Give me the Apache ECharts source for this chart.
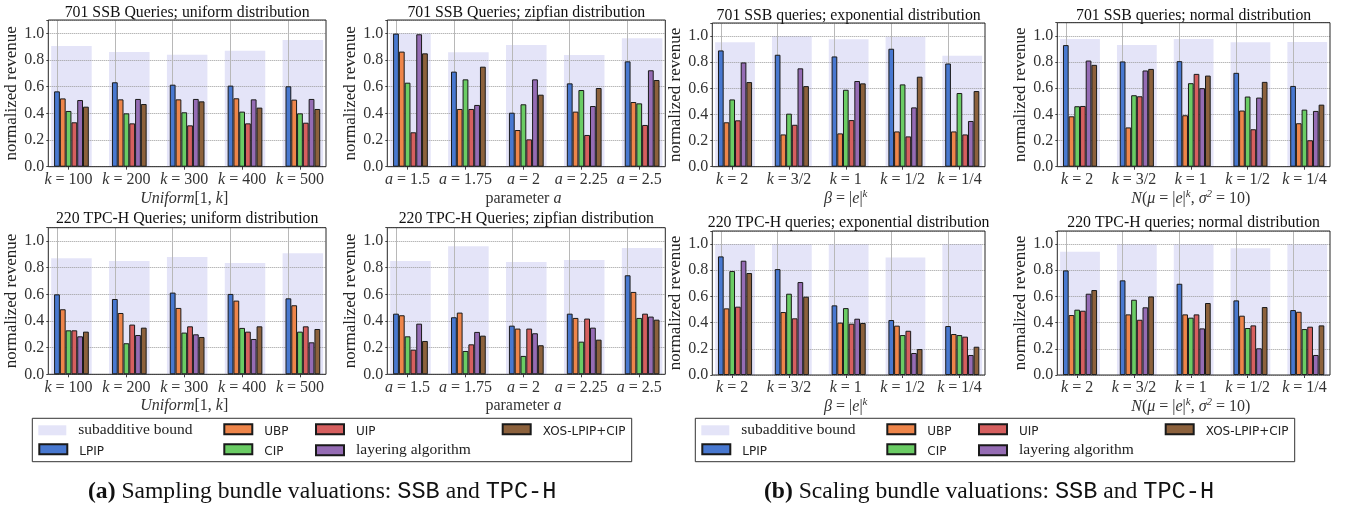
<!DOCTYPE html>
<html><head><meta charset="utf-8">
<script src="https://cdn.jsdelivr.net/npm/echarts@6/dist/echarts.min.js"></script>
<style>html,body{margin:0;padding:0;background:#fff}#c{width:1347px;height:508px}</style>
</head><body><div id="c"></div>
<script>
// ---------- categories ----------
const uniformCats = ['k = 100', 'k = 200', 'k = 300', 'k = 400', 'k = 500'];
const zipfCats = ['a = 1.5', 'a = 1.75', 'a = 2', 'a = 2.25', 'a = 2.5'];
const scaleCats = ['k = 2', 'k = 3/2', 'k = 1', 'k = 1/2', 'k = 1/4'];

// ---------- 701 SSB, uniform ----------
const ssbUniBound = [0.905, 0.86, 0.84, 0.87, 0.95];
const ssbUniLPIP = [0.565, 0.633, 0.615, 0.608, 0.603];
const ssbUniUBP = [0.512, 0.505, 0.505, 0.513, 0.503];
const ssbUniCIP = [0.418, 0.40, 0.408, 0.413, 0.40];
const ssbUniUIP = [0.333, 0.325, 0.31, 0.325, 0.33];
const ssbUniLAY = [0.50, 0.508, 0.508, 0.505, 0.508];
const ssbUniXOS = [0.45, 0.47, 0.49, 0.443, 0.433];
// ---------- 701 SSB, zipfian ----------
const ssbZipfBound = [1.0, 0.858, 0.913, 0.838, 0.963];
const ssbZipfLPIP = [0.998, 0.713, 0.405, 0.625, 0.79];
const ssbZipfUBP = [0.863, 0.433, 0.275, 0.413, 0.485];
const ssbZipfCIP = [0.63, 0.655, 0.468, 0.575, 0.475];
const ssbZipfUIP = [0.258, 0.433, 0.205, 0.238, 0.313];
const ssbZipfLAY = [0.993, 0.463, 0.655, 0.455, 0.723];
const ssbZipfXOS = [0.85, 0.75, 0.54, 0.59, 0.65];
// ---------- 701 SSB, exponential ----------
const ssbExpBound = [0.952, 1.0, 0.975, 0.995, 0.85];
const ssbExpLPIP = [0.89, 0.857, 0.844, 0.903, 0.79];
const ssbExpUBP = [0.34, 0.247, 0.255, 0.27, 0.27];
const ssbExpCIP = [0.515, 0.406, 0.589, 0.63, 0.564];
const ssbExpUIP = [0.355, 0.321, 0.357, 0.232, 0.247];
const ssbExpLAY = [0.798, 0.753, 0.656, 0.454, 0.35];
const ssbExpXOS = [0.648, 0.617, 0.638, 0.689, 0.579];
// ---------- 701 SSB, normal ----------
const ssbNormBound = [0.975, 0.93, 0.975, 0.95, 0.952];
const ssbNormLPIP = [0.929, 0.804, 0.806, 0.717, 0.617];
const ssbNormUBP = [0.385, 0.30, 0.393, 0.429, 0.332];
const ssbNormCIP = [0.462, 0.546, 0.638, 0.536, 0.436];
const ssbNormUIP = [0.464, 0.538, 0.709, 0.286, 0.202];
const ssbNormLAY = [0.811, 0.735, 0.60, 0.528, 0.426];
const ssbNormXOS = [0.778, 0.747, 0.696, 0.648, 0.474];
// ---------- 220 TPC-H, uniform ----------
const tpcUniBound = [0.87, 0.85, 0.88, 0.835, 0.908];
const tpcUniLPIP = [0.60, 0.565, 0.613, 0.603, 0.57];
const tpcUniUBP = [0.488, 0.46, 0.498, 0.553, 0.518];
const tpcUniCIP = [0.33, 0.233, 0.313, 0.348, 0.32];
const tpcUniUIP = [0.33, 0.373, 0.36, 0.32, 0.36];
const tpcUniLAY = [0.285, 0.295, 0.30, 0.265, 0.24];
const tpcUniXOS = [0.32, 0.35, 0.28, 0.36, 0.34];
// ---------- 220 TPC-H, zipfian ----------
const tpcZipfBound = [0.85, 0.96, 0.843, 0.858, 0.948];
const tpcZipfLPIP = [0.455, 0.428, 0.365, 0.455, 0.743];
const tpcZipfUBP = [0.443, 0.463, 0.343, 0.423, 0.618];
const tpcZipfCIP = [0.285, 0.175, 0.138, 0.245, 0.423];
const tpcZipfUIP = [0.185, 0.225, 0.343, 0.418, 0.455];
const tpcZipfLAY = [0.38, 0.318, 0.308, 0.35, 0.433];
const tpcZipfXOS = [0.25, 0.29, 0.218, 0.26, 0.41];
// ---------- 220 TPC-H, exponential ----------
const tpcExpBound = [1.0, 1.0, 1.0, 0.898, 1.0];
const tpcExpLPIP = [0.906, 0.809, 0.532, 0.42, 0.374];
const tpcExpUBP = [0.509, 0.481, 0.40, 0.377, 0.313];
const tpcExpCIP = [0.794, 0.621, 0.511, 0.305, 0.305];
const tpcExpUIP = [0.522, 0.433, 0.392, 0.338, 0.293];
const tpcExpLAY = [0.873, 0.71, 0.43, 0.168, 0.153];
const tpcExpXOS = [0.779, 0.598, 0.397, 0.198, 0.216];
// ---------- 220 TPC-H, normal ----------
const tpcNormBound = [0.941, 1.0, 1.0, 0.969, 1.0];
const tpcNormLPIP = [0.799, 0.723, 0.697, 0.57, 0.496];
const tpcNormUBP = [0.458, 0.463, 0.463, 0.453, 0.483];
const tpcNormCIP = [0.499, 0.575, 0.438, 0.359, 0.351];
const tpcNormUIP = [0.491, 0.422, 0.463, 0.379, 0.369];
const tpcNormLAY = [0.621, 0.517, 0.356, 0.204, 0.153];
const tpcNormXOS = [0.649, 0.60, 0.55, 0.519, 0.379];

const BOUND_NAME = 'subadditive bound';
const SERIES_NAMES = ['LPIP', 'UBP', 'CIP', 'UIP', 'layering algorithm', 'XOS-LPIP+CIP'];
const COLORS = ['#4878d0', '#ee854a', '#6acc64', '#d65f5f', '#956cb4', '#8c613c'];
const BOUND_COLOR = '#e4e4f8';
const SERIF = "'Liberation Serif', 'DejaVu Serif', serif";
const SANS = "'DejaVu Sans', sans-serif";

const panels = [
  { title: '701 SSB Queries; uniform distribution', cats: uniformCats, xName: '{i|Uniform}[1, {i|k}]', bound: ssbUniBound, vals: [ssbUniLPIP, ssbUniUBP, ssbUniCIP, ssbUniUIP, ssbUniLAY, ssbUniXOS] },
  { title: '701 SSB Queries; zipfian distribution', cats: zipfCats, xName: 'parameter {i|a}', bound: ssbZipfBound, vals: [ssbZipfLPIP, ssbZipfUBP, ssbZipfCIP, ssbZipfUIP, ssbZipfLAY, ssbZipfXOS] },
  { title: '701 SSB queries; exponential distribution', cats: scaleCats, xName: '{i|β} = |{i|e}|{s|k}', bound: ssbExpBound, vals: [ssbExpLPIP, ssbExpUBP, ssbExpCIP, ssbExpUIP, ssbExpLAY, ssbExpXOS] },
  { title: '701 SSB queries; normal distribution', cats: scaleCats, xName: '{i|N}({i|μ} = |{i|e}|{s|k}, {i|σ}{s|2} = 10)', bound: ssbNormBound, vals: [ssbNormLPIP, ssbNormUBP, ssbNormCIP, ssbNormUIP, ssbNormLAY, ssbNormXOS] },
  { title: '220 TPC-H Queries; uniform distribution', cats: uniformCats, xName: '{i|Uniform}[1, {i|k}]', bound: tpcUniBound, vals: [tpcUniLPIP, tpcUniUBP, tpcUniCIP, tpcUniUIP, tpcUniLAY, tpcUniXOS] },
  { title: '220 TPC-H Queries; zipfian distribution', cats: zipfCats, xName: 'parameter {i|a}', bound: tpcZipfBound, vals: [tpcZipfLPIP, tpcZipfUBP, tpcZipfCIP, tpcZipfUIP, tpcZipfLAY, tpcZipfXOS] },
  { title: '220 TPC-H queries; exponential distribution', cats: scaleCats, xName: '{i|β} = |{i|e}|{s|k}', bound: tpcExpBound, vals: [tpcExpLPIP, tpcExpUBP, tpcExpCIP, tpcExpUIP, tpcExpLAY, tpcExpXOS] },
  { title: '220 TPC-H queries; normal distribution', cats: scaleCats, xName: '{i|N}({i|μ} = |{i|e}|{s|k}, {i|σ}{s|2} = 10)', bound: tpcNormBound, vals: [tpcNormLPIP, tpcNormUBP, tpcNormCIP, tpcNormUIP, tpcNormLAY, tpcNormXOS] }
];

// layout: [left, top, right, bottom] of each axes frame
const frames = [
  [48.3, 20, 326, 166.7], [387.3, 20, 665.3, 166.7], [712.3, 23, 985, 166.7], [1057.3, 22.7, 1330, 166.7],
  [48.3, 227.7, 326, 374.3], [387.3, 227.7, 665.3, 374.3], [712.3, 231, 985, 375], [1057.3, 231, 1330, 375]
];
const titleTops = [5, 5, 8, 8, 211, 211, 215, 215];

const grid = [], xAxis = [], yAxis = [], series = [], title = [];

const yFmt = v => (Math.abs(v * 5 - Math.round(v * 5)) < 1e-6 && v <= 1.0001) ? v.toFixed(1) : '';
const italicRich = {
  i: { fontStyle: 'italic', fontFamily: SERIF, fontSize: 16, color: '#333', lineHeight: 20 },
  s: { fontStyle: 'italic', fontFamily: SERIF, fontSize: 11, color: '#333', lineHeight: 20, verticalAlign: 'top' }
};

panels.forEach((p, idx) => {
  const [L, T, R, B] = frames[idx];
  const W = R - L, H = B - T, u = W / 4.8;

  // frame grid (border, y axis, horizontal grid)
  const gF = grid.length;
  grid.push({ left: L, top: T, width: W, height: H, show: true, borderColor: '#262626', borderWidth: 1, z: 10 });
  xAxis.push({ gridIndex: gF, type: 'value', min: 0, max: 1, show: false });
  yAxis.push({
    gridIndex: gF, type: 'value', min: 0, max: 1.1, interval: 0.2, z: 2,
    name: 'normalized revenue', nameLocation: 'middle', nameGap: 25, nameRotate: 90,
    nameTextStyle: { fontFamily: SERIF, fontSize: 17, color: '#222' },
    axisLine: { show: false },
    axisTick: { show: true, length: 2, lineStyle: { color: '#444' } },
    axisLabel: { margin: 4, fontFamily: SERIF, fontSize: 16, color: '#333', formatter: yFmt },
    splitLine: { show: true, lineStyle: { type: 'dotted', color: '#9a9a9a', width: 1 } }
  });

  // background (bound) grid
  const gB = grid.length;
  grid.push({ left: L - 0.1 * u, top: T, width: 5 * u, height: H });
  const xB = xAxis.length;
  xAxis.push({ gridIndex: gB, type: 'category', data: p.cats, show: false });
  const yB = yAxis.length;
  yAxis.push({ gridIndex: gB, type: 'value', min: 0, max: 1.1, show: false });
  series.push({
    type: 'bar', name: BOUND_NAME, xAxisIndex: xB, yAxisIndex: yB, data: p.bound,
    barWidth: '70%', itemStyle: { color: BOUND_COLOR }, z: 1, silent: true
  });

  // data grid
  const gD = grid.length;
  grid.push({ left: L - 0.15 * u, top: T, width: 5 * u, height: H });
  const xD = xAxis.length;
  xAxis.push({
    gridIndex: gD, type: 'category', data: p.cats,
    axisLine: { show: false },
    axisTick: { show: true, alignWithLabel: true, length: 3, lineStyle: { color: '#444' } },
    axisLabel: {
      interval: 0, margin: 5, fontFamily: SERIF, fontSize: 16, color: '#333',
      formatter: v => v.replace(/^([a-z])/, '{i|$1}'),
      rich: { i: { fontStyle: 'italic', fontFamily: SERIF, fontSize: 16, color: '#333' } }
    },
    name: p.xName, nameLocation: 'middle', nameGap: 21,
    nameTextStyle: { fontFamily: SERIF, fontSize: 16, color: '#333', lineHeight: 20, rich: italicRich },
    splitLine: { show: false }
  });
  const yD = yAxis.length;
  yAxis.push({ gridIndex: gD, type: 'value', min: 0, max: 1.1, show: false });

  // spacer slot so that the six bars sit at offsets -2..+3 bar widths from the tick
  series.push({ type: 'bar', name: 'spacer', xAxisIndex: xD, yAxisIndex: yD, data: [], barWidth: '10%', barGap: '0%', silent: true });
  SERIES_NAMES.forEach((nm, k) => {
    const s = {
      type: 'bar', name: nm, xAxisIndex: xD, yAxisIndex: yD, data: p.vals[k],
      barWidth: '10%', barGap: '0%', z: 4,
      itemStyle: { color: COLORS[k], borderColor: '#1a1a1a', borderWidth: 1 }
    };
    if (k === 0) {
      s.markLine = {
        silent: true, symbol: 'none', z: 2, animation: false,
        label: { show: false },
        lineStyle: { color: '#b8b8b8', width: 1, type: 'solid' },
        emphasis: { disabled: true },
        data: p.cats.map(c => ({ xAxis: c }))
      };
    }
    series.push(s);
  });

  title.push({
    text: p.title, left: (L + R) / 2, top: titleTops[idx], textAlign: 'center', padding: 0,
    textStyle: { fontFamily: SERIF, fontSize: 15.8, fontWeight: 'normal', color: '#111', lineHeight: 16 }
  });
});

// captions
const CAP = 23.6;
const captionRich = {
  b: { fontFamily: SERIF, fontSize: CAP, fontWeight: 'bold', color: '#111' },
  r: { fontFamily: SERIF, fontSize: CAP, color: '#111' },
  m: { fontFamily: "'Liberation Mono', 'DejaVu Sans Mono', monospace", fontSize: CAP, color: '#111' }
};
title.push({ text: '{b|(a)} {r|Sampling bundle valuations:} {m|SSB} {r|and} {m|TPC-H}', left: 88, top: 480, padding: 0,
  textStyle: { fontFamily: SERIF, fontSize: CAP, fontWeight: 'normal', color: '#111', rich: captionRich } });
title.push({ text: '{b|(b)} {r|Scaling bundle valuations:} {m|SSB} {r|and} {m|TPC-H}', left: 764, top: 480, padding: 0,
  textStyle: { fontFamily: SERIF, fontSize: CAP, fontWeight: 'normal', color: '#111', rich: captionRich } });

// legends: two panels, items placed in a 4-column / 2-row table
const legendItems = [
  { name: BOUND_NAME, col: 0, row: 0, serif: true },
  { name: 'LPIP', col: 0, row: 1 },
  { name: 'UBP', col: 1, row: 0 },
  { name: 'CIP', col: 1, row: 1 },
  { name: 'UIP', col: 2, row: 0 },
  { name: 'layering algorithm', col: 2, row: 1, serif: true },
  { name: 'XOS-LPIP+CIP', col: 3, row: 0 }
];
const legendColX = [38.3, 223.3, 315, 501.7];
const legendRowCenter = [429.3, 449.3];
const legendShift = [0, 663];
const legendRich = {
  s: { fontFamily: SERIF, fontSize: 15.5, lineHeight: 14, padding: [0, 0, 0, 7], color: '#222' },
  n: { fontFamily: SANS, fontSize: 12, lineHeight: 12, padding: [5, 0, 0, 7], color: '#222' }
};
const legend = [];
legendShift.forEach(sh => {
  legendItems.forEach(it => {
    const boxH = it.serif ? 14 : 17;
    legend.push({
      orient: 'horizontal', left: legendColX[it.col] + sh,
      top: legendRowCenter[it.row] - boxH / 2, padding: 0,
      itemWidth: 28, itemHeight: 10, icon: 'rect', selectedMode: false,
      data: [it.name],
      formatter: n => (it.serif ? '{s|' : '{n|') + n + '}',
      textStyle: { rich: legendRich }
    });
  });
});

const graphic = legendShift.map(sh => ({
  type: 'rect', silent: true,
  shape: { x: 32.3 + sh, y: 418.3, width: 599.4, height: 43.4 },
  style: { fill: 'rgba(0,0,0,0)', stroke: '#333', lineWidth: 1 }
}));

const chart = echarts.init(document.getElementById('c'), null, { renderer: 'canvas' });
chart.setOption({ animation: false, backgroundColor: '#fff', title, legend, grid, xAxis, yAxis, series, graphic });
</script></body></html>
